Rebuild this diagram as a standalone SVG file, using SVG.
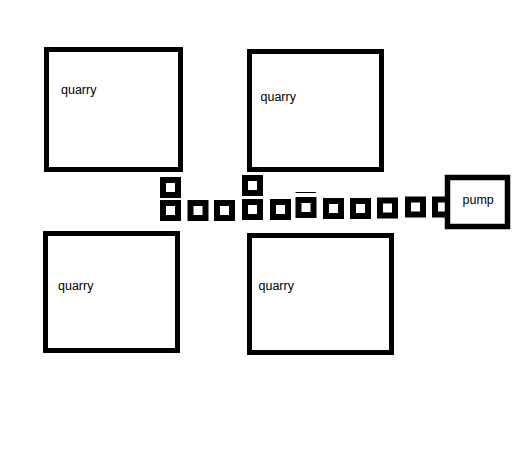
<svg xmlns="http://www.w3.org/2000/svg" width="522" height="462" viewBox="0 0 522 462">
<style>
.box{fill:none;stroke:#000;stroke-width:5}
.sq{fill:#fff;stroke:#000;stroke-width:6}
.lbl{font-family:"Liberation Sans",Arial,sans-serif;font-size:12.5px;fill:#000}
</style>
<rect width="522" height="462" fill="#fff"/>
<g id="quarry1"><rect class="box" x="46.5" y="49.5" width="134" height="120"/><text class="lbl" x="61" y="94">quarry</text></g>
<g id="quarry2"><rect class="box" x="249.5" y="51.5" width="132" height="118"/><text class="lbl" x="260.5" y="100.5">quarry</text></g>
<g id="quarry3"><rect class="box" x="45.5" y="233.5" width="132" height="117"/><text class="lbl" x="58" y="290">quarry</text></g>
<g id="quarry4"><rect class="box" x="249.5" y="235.5" width="142" height="117"/><text class="lbl" x="258.5" y="290">quarry</text></g>
<g id="connectors">
<rect class="sq" x="163" y="180" width="15" height="15"/>
<rect class="sq" x="245" y="178" width="15" height="15"/>
<rect class="sq" x="163" y="203" width="15" height="15"/>
<rect class="sq" x="190.5" y="203" width="15" height="15"/>
<rect class="sq" x="217" y="203" width="15" height="15"/>
<rect class="sq" x="245" y="202" width="15" height="15"/>
<rect class="sq" x="273" y="202" width="15" height="15"/>
<rect class="sq" x="298.5" y="200" width="15" height="15"/>
<rect class="sq" x="326" y="201" width="15" height="15"/>
<rect class="sq" x="353" y="201" width="15" height="15"/>
<rect class="sq" x="380" y="200.5" width="15" height="15"/>
<rect class="sq" x="408" y="199.5" width="15" height="15"/>
<rect class="sq" x="435" y="199.5" width="15" height="15"/>
<line x1="295.5" y1="192.5" x2="316" y2="192.5" stroke="#000" stroke-width="1"/>
</g>
<g id="pump"><rect x="447.5" y="177.5" width="60" height="49" fill="#fff" stroke="#000" stroke-width="5.5"/><text class="lbl" x="462.5" y="203.5">pump</text></g>
</svg>
